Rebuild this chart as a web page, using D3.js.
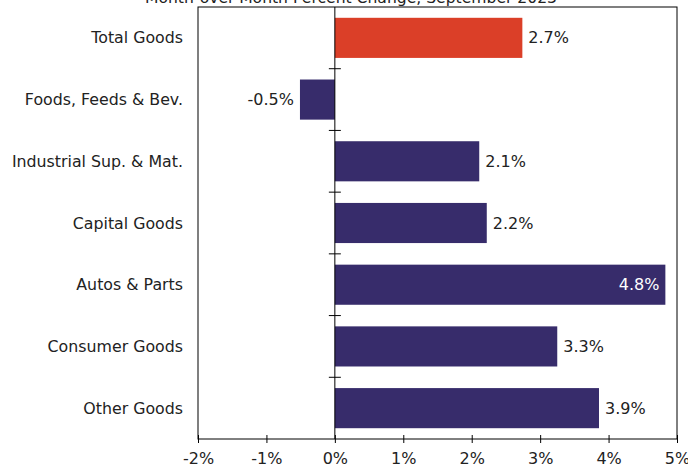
<!DOCTYPE html>
<html>
<head>
<meta charset="utf-8">
<script src="https://cdn.jsdelivr.net/npm/d3@7"></script>
<style>
  body { margin: 0; background: #fff; }
  text { font-family: "DejaVu Sans", Verdana, sans-serif; }
</style>
</head>
<body>
<svg id="chart" width="688" height="470"></svg>
<script>
const categories = ["Total Goods", "Foods, Feeds & Bev.", "Industrial Sup. & Mat.", "Capital Goods", "Autos & Parts", "Consumer Goods", "Other Goods"];
const values = [2.74, -0.51, 2.11, 2.22, 4.83, 3.25, 3.86];
const tickValues = [-2, -1, 0, 1, 2, 3, 4, 5];
const title = "Month-over-Month Percent Change, September 2023";

const margin = { top: 7, right: 11, bottom: 31, left: 198 };
const width = 688 - margin.left - margin.right;
const height = 470 - margin.top - margin.bottom;

const svg = d3.select("#chart");

svg.append("text")
  .attr("x", 351)
  .attr("y", 3)
  .attr("text-anchor", "middle")
  .attr("font-size", 15.6)
  .attr("fill", "#222")
  .text(title);

const g = svg.append("g")
  .attr("transform", "translate(" + margin.left + "," + margin.top + ")");

const x = d3.scaleLinear().domain([-2, 5]).range([0, width]);
const y = d3.scaleBand().domain(categories).range([0, height]).paddingInner(0.35).paddingOuter(0.175);

// frame
g.append("rect")
  .attr("width", width)
  .attr("height", height)
  .attr("fill", "none")
  .attr("stroke", "#000")
  .attr("stroke-width", 1);

const data = categories.map((c, i) => ({ name: c, value: values[i] }));

g.selectAll("rect.bar")
  .data(data)
  .join("rect")
  .attr("class", "bar")
  .attr("x", d => x(Math.min(0, d.value)))
  .attr("y", d => y(d.name))
  .attr("width", d => Math.abs(x(d.value) - x(0)))
  .attr("height", y.bandwidth())
  .attr("fill", (d, i) => i === 0 ? "#db3f28" : "#372c6b");

// zero line
g.append("line")
  .attr("x1", x(0)).attr("x2", x(0))
  .attr("y1", 0).attr("y2", height)
  .attr("stroke", "#000");

// category separators on zero line
const step = y.step();
const seps = categories.slice(1).map(c => y(c) - y.paddingInner() * step / 2);
g.selectAll("line.sep")
  .data(seps)
  .join("line")
  .attr("class", "sep")
  .attr("x1", x(0) - 6).attr("x2", x(0) + 6)
  .attr("y1", d => d).attr("y2", d => d)
  .attr("stroke", "#000");

// category labels
g.selectAll("text.cat")
  .data(categories)
  .join("text")
  .attr("class", "cat")
  .attr("x", -15)
  .attr("y", d => y(d) + y.bandwidth() / 2)
  .attr("dy", "0.35em")
  .attr("text-anchor", "end")
  .attr("font-size", 15.8)
  .attr("fill", "#222")
  .text(d => d);

// value labels
const inside = d => d.value > 4.5;
g.selectAll("text.val")
  .data(data)
  .join("text")
  .attr("class", "val")
  .attr("x", d => (d.value < 0 || inside(d)) ? x(d.value) - 6 : x(d.value) + 6)
  .attr("y", d => y(d.name) + y.bandwidth() / 2)
  .attr("dy", "0.35em")
  .attr("text-anchor", d => (d.value < 0 || inside(d)) ? "end" : "start")
  .attr("font-size", 16)
  .attr("fill", d => inside(d) ? "#fff" : "#222")
  .text(d => d.value.toFixed(1) + "%");

// x axis
const axis = g.append("g")
  .attr("transform", "translate(0," + height + ")")
  .call(d3.axisBottom(x).tickValues(tickValues).tickFormat(d => d + "%").tickSize(4).tickSizeOuter(0));
axis.select(".domain").remove();
axis.selectAll(".tick line").attr("y1", -4).attr("y2", 4).attr("stroke", "#000");
axis.selectAll(".tick text")
  .attr("y", 14)
  .attr("font-size", 16)
  .attr("font-family", "DejaVu Sans, Verdana, sans-serif")
  .attr("fill", "#222");
</script>
</body>
</html>
